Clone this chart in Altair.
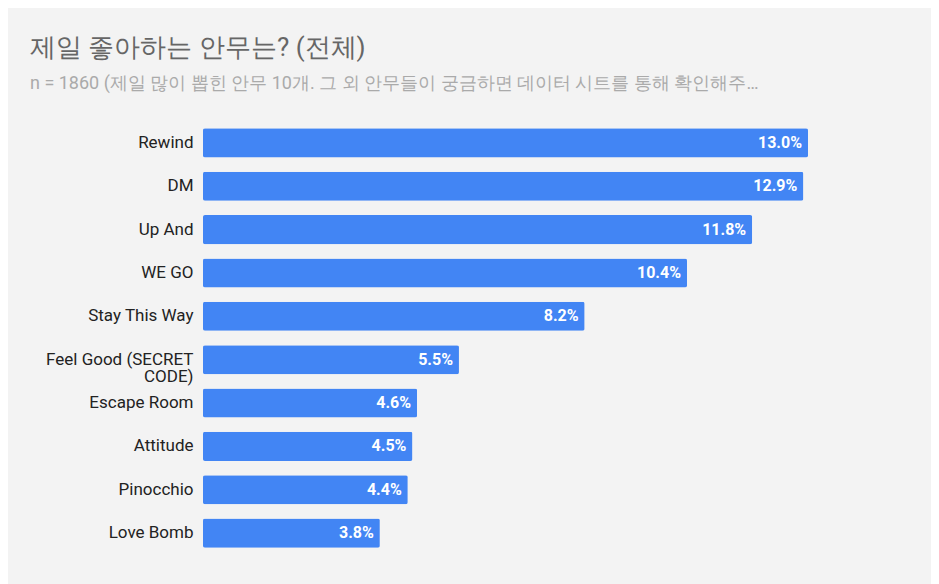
import altair as alt
import pandas as pd

moves = ["Rewind", "DM", "Up And", "WE GO", "Stay This Way",
         "Feel Good (SECRET CODE)", "Escape Room", "Attitude", "Pinocchio", "Love Bomb"]
shares = [13.0, 12.9, 11.8, 10.4, 8.2, 5.5, 4.6, 4.5, 4.4, 3.8]

df = pd.DataFrame({"move": moves, "share": shares})
df["text"] = df["share"].map(lambda v: f"{v:.1f}%")

font = "Roboto"

y = alt.Y("move:N", sort=moves, title=None,
          scale=alt.Scale(paddingInner=0.33, paddingOuter=0.17),
          axis=alt.Axis(ticks=False, domain=False, labelFontSize=17, labelColor="#222222",
                        labelFont=font, labelPadding=10, labelLimit=300, labelLineHeight=17,
                        labelExpr="datum.label == 'Feel Good (SECRET CODE)' ? ['Feel Good (SECRET', 'CODE)'] : datum.label"))
x = alt.X("share:Q", title=None, axis=None, scale=alt.Scale(domain=[0, 13], nice=False))

base = alt.Chart(df)
bars = base.mark_bar(color="#4285f4", cornerRadius=2).encode(x=x, y=y)
labels = base.mark_text(align="right", dx=-6, color="white", fontSize=16,
                        fontWeight="bold", font=font).encode(x=x, y=y, text="text:N")

chart = (bars + labels).properties(
    width=605, height=434,
    autosize=alt.AutoSizeParams(type="none"),
    padding={"left": 195, "top": 113, "right": 123, "bottom": 29},
    background="#f3f3f3",
    title=alt.TitleParams(
        "제일 좋아하는 안무는? (전체)",
        subtitle="n = 1860 (제일 많이 뽑힌 안무 10개. 그 외 안무들이 궁금하면 데이터 시트를 통해 확인해주…",
        anchor="start", frame="group", dx=-173, offset=28, fontSize=26, fontWeight="normal",
        color="#666666", font=font, subtitleFont=font, subtitleFontSize=18,
        subtitleColor="#aaaaaa", subtitlePadding=14),
).configure_view(strokeWidth=0)

chart.save("out.html", embed_options={"renderer": "svg", "actions": False})
